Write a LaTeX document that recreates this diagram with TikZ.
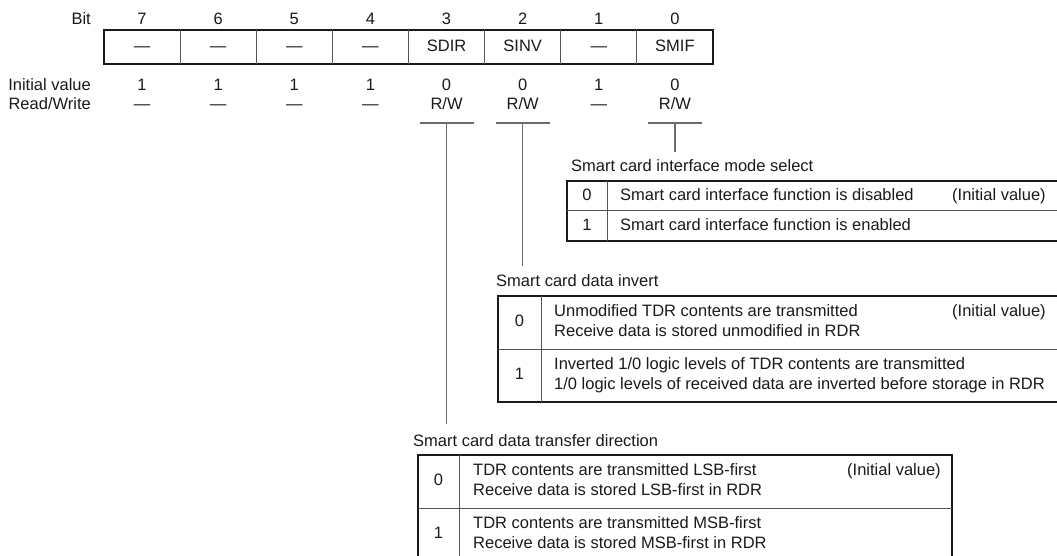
\documentclass[tikz,border=0pt]{standalone}
\usepackage{fontspec}
\setmainfont{Liberation Sans}
\usetikzlibrary{positioning,calc}
\definecolor{Frame}{HTML}{1A1A1A}
\definecolor{Rule}{HTML}{555555}
\definecolor{Lead}{HTML}{6B6B6B}
\definecolor{DarkText}{HTML}{1A1A1A}
\newcommand{\regfont}{\fontsize{16.5}{20}\selectfont}
\newcommand{\rwbits}{R/W}
\tikzset{
  txt/.style={font=\regfont, text=DarkText, inner sep=0pt, text height=12pt, text depth=3.5pt},
  frame/.style={draw=Frame, line width=1.4pt},
  rule/.style={draw=Rule, line width=1pt},
  lead/.style={draw=Lead, line width=1.2pt}
}

\begin{document}
\begin{tikzpicture}[x=1pt,y=-1pt]
\useasboundingbox (0,0) rectangle (1057,556);
% register layout
\draw[frame] (104,30) rectangle (713,64);
\foreach \i in {1,...,7}{\draw[rule] ({104+76.125*\i},30) -- ({104+76.125*\i},64);}
\node[txt,anchor=east] (bitlbl) at (91,20) {Bit};
\node[txt,anchor=east] (initlbl) at (91,86) {Initial value};
\node[txt,anchor=east] (rwlbl) at (91,105) {Read/Write};
\foreach \b/\f/\v/\a [count=\i from 0] in {7/—/1/—,6/—/1/—,5/—/1/—,4/—/1/—,3/SDIR/0/\rwbits,2/SINV/0/\rwbits,1/—/1/—,0/SMIF/0/\rwbits}{
  \node[txt] (bit\b) at ({142.06+76.125*\i},20) {\b};
  \node[txt] (fld\b) at ({142.06+76.125*\i},47) {\f};
  \node[txt] (ini\b) at ({142.06+76.125*\i},86) {\v};
  \node[txt] (rw\b) at ({142.06+76.125*\i},105) {\a};
}
% bit descriptions
\node[txt,anchor=west] (smifT) at (571,167) {Smart card interface mode select};
\draw[frame] (1057,181) -| (567,241) -- (1057,241);
\draw[rule] (607,181) -- (607,241);
\draw[rule] (567,211) -- (1057,211);
\node[txt] (smif0) at (587,196) {0};
\node[txt,anchor=west] (smifd0) at (620,196) {Smart card interface function is disabled};
\node[txt,anchor=west] (smifi) at (952,196) {(Initial value)};
\node[txt] (smif1) at (587,226) {1};
\node[txt,anchor=west] (smifd1) at (620,226) {Smart card interface function is enabled};

\node[txt,anchor=west] (sinvT) at (496,282) {Smart card data invert};
\draw[frame] (1057,296) -| (498,402) -- (1057,402);
\draw[rule] (541,296) -- (541,402);
\draw[rule] (498,349) -- (1057,349);
\node[txt] (sinv0) at (519.5,322.5) {0};
\node[txt,anchor=west] (sinvd0a) at (554,312.5) {Unmodified TDR contents are transmitted};
\node[txt,anchor=west] (sinvd0b) at (554,332.5) {Receive data is stored unmodified in RDR};
\node[txt,anchor=west] (sinvi) at (952,312.5) {(Initial value)};
\node[txt] (sinv1) at (519.5,375.5) {1};
\node[txt,anchor=west] (sinvd1a) at (554,365.5) {Inverted 1/0 logic levels of TDR contents are transmitted};
\node[txt,anchor=west] (sinvd1b) at (554,385.5) {1/0 logic levels of received data are inverted before storage in RDR};

\node[txt,anchor=west] (sdirT) at (413,442) {Smart card data transfer direction};
\draw[frame] (418,561) -- (418,455) -- (952,455) -- (952,561);
\draw[rule] (459,455) -- (459,561);
\draw[rule] (418,508) -- (952,508);
\node[txt] (sdir0) at (438.5,481.5) {0};
\node[txt,anchor=west] (sdird0a) at (473,471.5) {TDR contents are transmitted LSB-first};
\node[txt,anchor=west] (sdird0b) at (473,491.5) {Receive data is stored LSB-first in RDR};
\node[txt,anchor=west] (sdiri) at (847,471.5) {(Initial value)};
\node[txt] (sdir1) at (438.5,534.5) {1};
\node[txt,anchor=west] (sdird1a) at (473,524.5) {TDR contents are transmitted MSB-first};
\node[txt,anchor=west] (sdird1b) at (473,544.5) {Receive data is stored MSB-first in RDR};
% leaders from R/W
\foreach \b in {3,2,0}{
  \coordinate (tk\b) at (rw\b |- 0,123);
  \draw[lead] ([xshift=-27pt]tk\b) -- ([xshift=27pt]tk\b);
}
\draw[lead] (tk0) -- ([yshift=7pt]tk0 |- smifT.north);
\draw[lead] (tk2) -- ([yshift=8pt]tk2 |- sinvT.north);
\draw[lead] (tk3) -- ([yshift=10pt]tk3 |- sdirT.north);
\end{tikzpicture}
\end{document}
